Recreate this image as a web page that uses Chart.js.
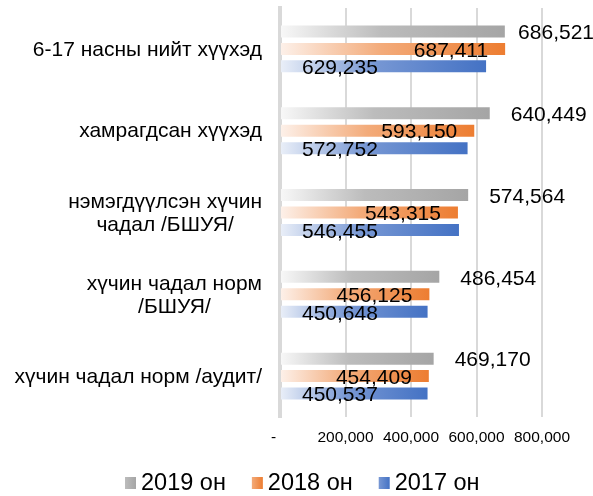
<!DOCTYPE html>
<html>
<head>
<meta charset="utf-8">
<script src="https://cdn.jsdelivr.net/npm/chart.js@4"></script>
<style>
  html, body { margin: 0; padding: 0; background: #fff; }
  #wrap { width: 593px; height: 496px; }
</style>
</head>
<body>
<div id="wrap"><canvas id="chart" width="593" height="496"></canvas></div>
<script>
const categories = [
  ["6-17 насны нийт хүүхэд"],
  ["хамрагдсан хүүхэд"],
  ["нэмэгдүүлсэн хүчин", "чадал /БШУЯ/"],
  ["хүчин чадал норм", "/БШУЯ/"],
  ["хүчин чадал норм /аудит/"]
];
const seriesNames = ["2019 он", "2018 он", "2017 он"];
const values2019 = [686521, 640449, 574564, 486454, 469170];
const values2018 = [687411, 593150, 543315, 456125, 454409];
const values2017 = [629235, 572752, 546455, 450648, 450537];
const xTicks = [0, 200000, 400000, 600000, 800000];

const FONT = '"Liberation Sans", Arial, sans-serif';
// gradient stops per series: light at the base, full colour at the end
const gradStops = [
  ["#f8f8f8", "#bcbcbc", "#a5a5a5"],
  ["#fdf1ea", "#f3ab7a", "#ed7d31"],
  ["#eaeff8", "#7898d4", "#4472c4"]
];

function fmt(v) {
  return v.toLocaleString("en-US");
}

function barGradient(ctx, i) {
  const chart = ctx.chart;
  const stops = gradStops[i];
  if (!chart.chartArea || ctx.raw == null) return stops[2];
  const xs = chart.scales.x;
  const x0 = xs.getPixelForValue(0);
  const x1 = xs.getPixelForValue(ctx.raw);
  const g = chart.ctx.createLinearGradient(x0, 0, x1, 0);
  g.addColorStop(0, stops[0]);
  g.addColorStop(0.45, stops[1]);
  g.addColorStop(1, stops[2]);
  return g;
}

const extras = {
  id: "extras",
  afterDatasetsDraw(chart) {
    const ctx = chart.ctx;
    ctx.save();
    ctx.font = "21px " + FONT;
    ctx.fillStyle = "#000";
    ctx.textBaseline = "middle";
    chart.data.datasets.forEach((ds, i) => {
      const meta = chart.getDatasetMeta(i);
      meta.data.forEach((bar, j) => {
        const txt = fmt(ds.data[j]);
        const tw = ctx.measureText(txt).width;
        const y = bar.y + 2;
        if (i === 0) {
          ctx.textAlign = "left";
          ctx.fillText(txt, Math.min(bar.x + 21, chart.width - tw + 1), y);
        } else if (i === 1) {
          ctx.textAlign = "right";
          ctx.fillText(txt, bar.x - 17, y);
        } else {
          ctx.textAlign = "left";
          ctx.fillText(txt, bar.base + 21, y);
        }
      });
    });
    ctx.restore();
  },
  afterDraw(chart) {
    const ctx = chart.ctx;
    const ys = chart.scales.y;
    ctx.save();
    // category labels, each block centred on its widest line
    ctx.font = "21px " + FONT;
    ctx.fillStyle = "#000";
    ctx.textAlign = "center";
    ctx.textBaseline = "middle";
    const right = chart.chartArea.left - 18;
    categories.forEach((lines, i) => {
      const yc = ys.getPixelForTick(i);
      const w = Math.max(...lines.map(l => ctx.measureText(l).width));
      const cx = right - w / 2;
      lines.forEach((l, k) => {
        ctx.fillText(l, cx, yc + 1 + (k - (lines.length - 1) / 2) * 23);
      });
    });

    // legend
    ctx.font = "23.5px " + FONT;
    ctx.textAlign = "left";
    let x = 125;
    const yc = 483;
    seriesNames.forEach((name, i) => {
      const g = ctx.createLinearGradient(x, 0, x + 11, 0);
      g.addColorStop(0, gradStops[i][1]);
      g.addColorStop(1, gradStops[i][2]);
      ctx.fillStyle = g;
      ctx.fillRect(x, yc - 6, 11, 12);
      ctx.fillStyle = "#000";
      ctx.fillText(name, x + 16, yc + 1);
      x += 16 + ctx.measureText(name).width + 26;
    });
    ctx.restore();
  }
};

new Chart(document.getElementById("chart"), {
  type: "bar",
  data: {
    labels: categories,
    datasets: seriesNames.map((name, i) => ({
      label: name,
      data: [values2019, values2018, values2017][i],
      backgroundColor: ctx => barGradient(ctx, i),
      borderWidth: 0,
      barPercentage: 0.686,
      categoryPercentage: 0.64
    }))
  },
  options: {
    indexAxis: "y",
    responsive: false,
    animation: false,
    devicePixelRatio: 1,
    layout: { padding: { top: 8, right: 51, bottom: 49, left: 0 } },
    plugins: {
      legend: { display: false },
      tooltip: { enabled: false }
    },
    scales: {
      x: {
        min: 0,
        max: 800000,
        afterFit: s => { s.height = 30; },
        afterBuildTicks: s => { s.ticks = xTicks.map(v => ({ value: v })); },
        grid: { color: "#d9d9d9", lineWidth: 2, drawTicks: false },
        border: { display: false },
        ticks: {
          padding: 11,
          color: "#000",
          font: { family: FONT, size: 15.5 },
          maxRotation: 0,
          callback: v => v === 0 ? "-   " : fmt(v)
        }
      },
      y: {
        afterFit: s => { s.width = 280; },
        grid: { display: false },
        border: { display: true, color: "#d9d9d9", width: 4 },
        ticks: { display: false }
      }
    }
  },
  plugins: [extras]
});
</script>
</body>
</html>
